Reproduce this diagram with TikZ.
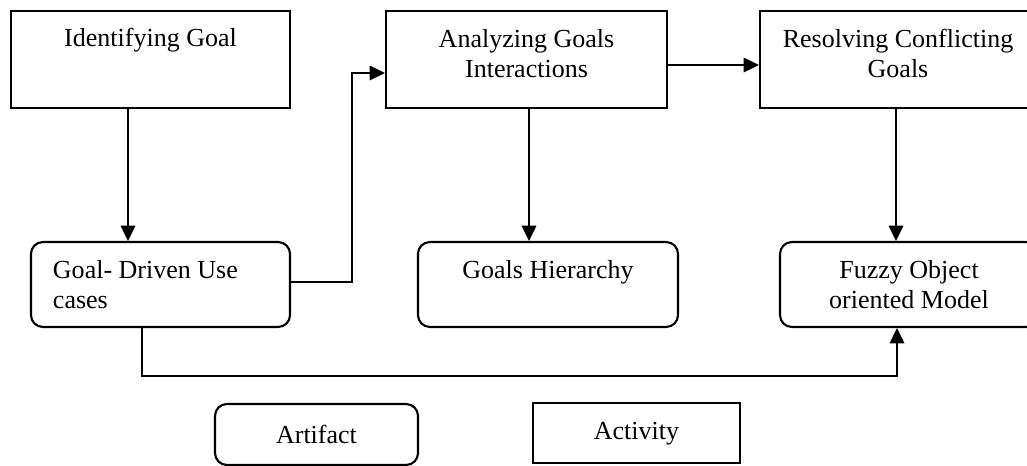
\documentclass[tikz,border=0pt]{standalone}
\usepackage{fontspec}
\setmainfont{Liberation Serif}
\usetikzlibrary{arrows.meta}
\usetikzlibrary{calc}

\begin{document}
\begin{tikzpicture}[x=0.025cm,y=-0.025cm,line width=1.5pt,>={Triangle[length=0.38cm,width=0.36cm]}]
  \tikzstyle{actv}=[draw, rectangle, inner sep=0pt, minimum height=2.425cm]
  \tikzstyle{artf}=[actv, rounded corners=0.3cm, minimum height=2.125cm]
  \tikzstyle{txt}=[align=center, inner sep=0pt, font=\fontsize{18.5}{21.3}\selectfont]
  \useasboundingbox (0,0) rectangle (1027,466);

  % activities
  \node[actv, minimum width=6.975cm] (idg) at (150.5,59.5) {};
  \node[actv, minimum width=7.025cm] (aga) at (526.5,59.5) {};
  \node[actv, minimum width=6.9cm]   (rcg) at (898,59.5)   {};
  \node[txt, anchor=base]  (idgT) at ($(idg.north)+(0,37)$)   {Identifying Goal};
  \node[txt, anchor=north] (agaT) at ($(aga.north)+(0,18.2)$) {Analyzing Goals\\Interactions};
  \node[txt, anchor=north] (rcgT) at ($(rcg.north)+(0,18.2)$) {Resolving Conflicting\\Goals};

  % artifacts
  \node[artf, minimum width=6.475cm] (gdu) at (160.5,284.5) {};
  \node[artf, minimum width=6.5cm]   (gh)  at (548,284.5)   {};
  \node[artf, minimum width=6.45cm]  (fom) at (909,284.5)   {};
  \node[txt, align=left, anchor=north west] (gduT) at ($(gdu.north west)+(22,18.5)$) {Goal- Driven Use\\cases};
  \node[txt, anchor=base]  (ghT)  at ($(gh.north)+(0,38)$)    {Goals Hierarchy};
  \node[txt, anchor=north] (fomT) at ($(fom.north)+(0,18.5)$) {Fuzzy Object\\oriented Model};

  % legend
  \node[artf, minimum width=5.075cm, minimum height=1.525cm] (art) at (316.5,434.5) {};
  \node[actv, minimum width=5.175cm, minimum height=1.5cm]   (act) at (636.5,433)   {};
  \node[txt, anchor=base] (artT) at ($(art.north)+(0,41)$) {Artifact};
  \node[txt, anchor=base] (actT) at ($(act.north)+(0,38)$) {Activity};

  \coordinate (t1) at ($(idg.south)+(-22.5,0)$);
  \coordinate (h1) at ($(aga.south)+(2.5,0)$);
  \coordinate (f1) at ($(rcg.south)+(-2,0)$);
  \coordinate (a1) at ($(aga.west)+(0,13.5)$);
  \coordinate (b1) at ($(gdu.south)+(-18.5,0)$);
  \coordinate (b2) at ($(fom.south)+(-12,0)$);

  \draw[->] (t1) -- (t1 |- gdu.north);
  \draw[->] (h1) -- (h1 |- gh.north);
  \draw[->] (f1) -- (f1 |- fom.north);
  \draw[->] ($(aga.east)+(0,5.5)$) -- ($(rcg.west)+(0,5.5)$);
  \draw[->] ($(gdu.east)+(0,-2.5)$) -- ++(61,0) |- (a1);
  \draw[->] (b1) -- ++(0,48) -| (b2);
\end{tikzpicture}
\end{document}
